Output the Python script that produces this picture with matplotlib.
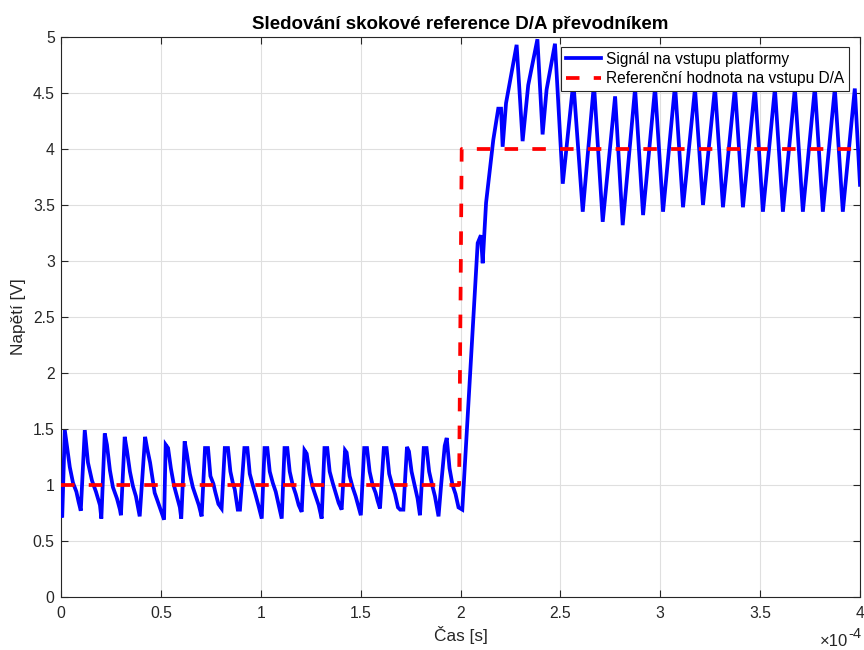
import numpy as np
import matplotlib
matplotlib.use('Agg')
import matplotlib.pyplot as plt
from matplotlib.ticker import FuncFormatter

plt.rcParams['font.family'] = ['Liberation Sans', 'DejaVu Sans']

# ---- data (time in microseconds, voltage in volts) ----
sig_t_us = [
    0, 0.6, 1.9, 4.4, 6.0, 7.7, 8.8, 9.9,
    11.9, 13.5, 15.5, 17.5, 19.5, 20.2,
    21.9, 23.0, 24.5, 26.0, 28.0, 29.5, 30.0,
    31.9, 33.0, 34.5, 36.0, 37.5, 39.4,
    42.1, 43.2, 44.6, 46.9, 48.1, 51.6,
    52.4, 53.6, 55.0, 56.5, 58.0, 59.5, 60.2,
    61.9, 63.0, 64.5, 66.0, 67.5, 69.0, 70.4,
    72.1, 73.6, 74.8, 76.3, 77.2, 78.8, 80.4,
    82.0, 83.6, 84.8, 86.0, 87.0, 88.5, 89.6,
    91.8, 93.3, 94.5, 96.0, 97.3, 98.8, 100.5,
    101.9, 103.3, 104.5, 106.0, 107.5, 109.0, 110.5,
    111.9, 113.3, 114.5, 116.0, 117.5, 119.0, 120.5,
    121.9, 123.0, 124.5, 126.0, 127.5, 129.0, 130.5,
    131.9, 133.3, 134.5, 136.0, 137.5, 139.0, 140.5,
    142.2, 143.0, 144.5, 146.0, 147.5, 149.0, 150.1,
    151.8, 153.2, 154.5, 156.0, 157.5, 158.5, 159.7,
    161.6, 163.0, 164.3, 165.8, 167.2, 168.7, 169.8, 171.4,
    173.2, 174.2, 175.5, 177.0, 178.5, 179.7,
    181.6, 183.0, 184.3, 185.8, 187.2, 189.0,
    190.3, 192.1, 193.1, 194.5, 196.0, 197.5, 199.0, 200.9,
    208.6, 210.2, 211.1, 212.8, 216.4, 218.9, 220.3, 221.1,
    222.8, 228.1, 231.1, 233.9, 238.5, 241.1, 243.1, 247.3,
    251.2, 256.5, 261.2, 266.8, 271.2, 277.4, 281.2, 287.4,
    291.4, 297.4, 301.4, 307.4, 311.4, 317.4, 321.4, 327.4,
    331.4, 337.4, 341.4, 347.4, 351.4, 357.4, 361.4, 367.4,
    371.4, 377.4, 381.4, 387.4, 391.4, 397.4, 400.0,
]
sig_v = [
    0.76, 0.71, 1.49, 1.16, 1.02, 0.94, 0.85, 0.77,
    1.49, 1.20, 1.04, 0.94, 0.82, 0.70,
    1.46, 1.36, 1.13, 0.98, 0.88, 0.78, 0.73,
    1.43, 1.31, 1.12, 0.99, 0.90, 0.72,
    1.43, 1.32, 1.20, 0.93, 0.87, 0.69,
    1.36, 1.33, 1.15, 1.00, 0.90, 0.80, 0.70,
    1.39, 1.28, 1.10, 0.98, 0.90, 0.82, 0.72,
    1.33, 1.33, 1.08, 1.01, 0.94, 0.83, 0.79,
    1.33, 1.33, 1.12, 1.02, 0.96, 0.78, 0.78,
    1.33, 1.33, 1.10, 1.00, 0.92, 0.82, 0.70,
    1.33, 1.33, 1.12, 1.02, 0.94, 0.82, 0.70,
    1.33, 1.33, 1.12, 1.00, 0.92, 0.82, 0.76,
    1.31, 1.28, 1.10, 0.98, 0.90, 0.82, 0.70,
    1.33, 1.33, 1.12, 1.02, 0.93, 0.84, 0.78,
    1.31, 1.29, 1.08, 0.98, 0.90, 0.80, 0.73,
    1.33, 1.33, 1.12, 1.00, 0.93, 0.86, 0.79,
    1.33, 1.33, 1.10, 1.00, 0.92, 0.80, 0.78, 0.78,
    1.34, 1.30, 1.12, 1.00, 0.88, 0.73,
    1.33, 1.33, 1.12, 1.00, 0.90, 0.72,
    1.00, 1.35, 1.42, 1.15, 1.00, 0.92, 0.80, 0.78,
    3.16, 3.23, 2.98, 3.52, 4.08, 4.36, 4.36, 4.02,
    4.41, 4.93, 4.07, 4.57, 4.98, 4.13, 4.53, 4.94,
    3.69, 4.60, 3.44, 4.58, 3.35, 4.47, 3.32, 4.54,
    3.41, 4.55, 3.44, 4.57, 3.48, 4.54, 3.50, 4.55,
    3.48, 4.55, 3.48, 4.55, 3.44, 4.54, 3.44, 4.54,
    3.44, 4.55, 3.44, 4.54, 3.44, 4.54, 3.68,
]
ref_t_us = [0.0, 199.3, 200.6, 400.0]
ref_v = [1.0, 1.0, 4.0, 4.0]

labels = ['Signál na vstupu platformy', 'Referenční hodnota na vstupu D/A']
title = 'Sledování skokové reference D/A převodníkem'
xlabel = 'Čas [s]'
ylabel = 'Napětí [V]'
x_ticks = [0, 0.5, 1, 1.5, 2, 2.5, 3, 3.5, 4]   # in units of 1e-4 s
y_ticks = [0, 0.5, 1, 1.5, 2, 2.5, 3, 3.5, 4, 4.5, 5]

# ---- figure ----
fig = plt.figure(figsize=(8.64, 6.5), dpi=100)
ax = fig.add_axes([61 / 864, 53 / 650, 799 / 864, 560 / 650])

ax.plot(np.array(sig_t_us) * 1e-6, sig_v, color='#0000FF', lw=2.7,
        solid_joinstyle='miter', label=labels[0], zorder=3)
ax.plot(np.array(ref_t_us) * 1e-6, ref_v, color='#FF0000', lw=2.7,
        dashes=(3.6, 3.8), dash_capstyle='butt', label=labels[1], zorder=4)

ax.set_xlim(0, 4e-4)
ax.set_ylim(0, 5)
ax.set_xticks([v * 1e-4 for v in x_ticks])
ax.set_yticks(y_ticks)
ax.xaxis.set_major_formatter(FuncFormatter(lambda v, p: '%g' % round(v * 1e4, 4)))
ax.yaxis.set_major_formatter(FuncFormatter(lambda v, p: '%g' % v))

ax.grid(True, color='#dfdfdf', lw=0.8)
ax.set_axisbelow(True)
ax.tick_params(direction='in', length=5, width=0.8, colors='#262626',
               top=True, right=True, labelsize=11.3)
ax.tick_params(axis='x', pad=6.5)
ax.tick_params(axis='y', pad=4.5)
for s in ax.spines.values():
    s.set_color('#262626')
    s.set_linewidth(0.8)

ax.set_title(title, fontsize=13.5, fontweight='bold', pad=5.8)
ax.set_xlabel(xlabel, fontsize=12.4, color='#262626')
ax.set_ylabel(ylabel, fontsize=12.4, color='#262626')
ax.xaxis.set_label_coords(0.5, (597 - 626) / 560)
ax.yaxis.set_label_coords((26 - 61) / 799, 0.5)

# axis exponent label (x 10^-4)
fig.text(848 / 864, (650 - 646) / 650, '×10', ha='right', va='baseline',
         fontsize=12, color='#262626')
fig.text(848 / 864, (650 - 638) / 650, '-4', ha='left', va='baseline',
         fontsize=10.5, color='#262626')

leg = ax.legend(loc='upper right', bbox_to_anchor=((849 - 61) / 799, (597 - 47) / 560),
                borderaxespad=0, fontsize=11.2, frameon=True, fancybox=False,
                edgecolor='#262626', framealpha=1, handlelength=2.3,
                handletextpad=0.3, labelspacing=0.3, borderpad=0.3)
leg.get_frame().set_linewidth(0.8)

fig.savefig('out.png', dpi=100)
